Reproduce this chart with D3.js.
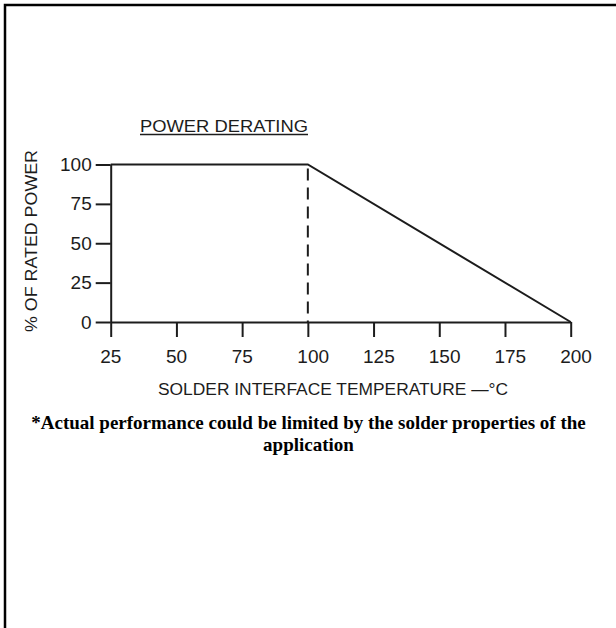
<!DOCTYPE html>
<html>
<head>
<meta charset="utf-8">
<script src="https://cdn.jsdelivr.net/npm/d3@7"></script>
<style>
    body { margin: 0; background: #fff; }
    svg { display: block; }
</style>
</head>
<body>
<div id="chart"></div>
<script>
// chart values
const tempTicks = [25, 50, 75, 100, 125, 150, 175, 200];
const powerTicks = [0, 25, 50, 75, 100];
const curveTemp = [25, 100, 200];
const curvePower = [100, 100, 0];
const kneeTemp = 100;

const chartTitle = "POWER DERATING";
const xTitle = "SOLDER INTERFACE TEMPERATURE \u2014\u00B0C";
const yTitle = "% OF RATED POWER";
const noteLines = [
    "*Actual performance could be limited by the solder properties of the",
    "application"
];

const W = 616, H = 628;
const CAD_FONT = "'Liberation Sans', Arial, sans-serif";
const INK = "#1c1c1c";

const svg = d3.select("#chart").append("svg")
    .attr("width", W)
    .attr("height", H);

// frame (runs off the right and bottom of the page)
svg.append("rect")
    .attr("x", 5).attr("y", 5)
    .attr("width", 700).attr("height", 700)
    .attr("fill", "none")
    .attr("stroke", "#000")
    .attr("stroke-width", 2.5);

const x = d3.scaleLinear().domain([25, 200]).range([110.7, 570.7]);
const y = d3.scaleLinear().domain([0, 100]).range([322, 164.5]);

// Title with underline
svg.append("text")
    .attr("x", 140)
    .attr("y", 131.5)
    .attr("textLength", 168)
    .attr("lengthAdjust", "spacingAndGlyphs")
    .style("font-family", CAD_FONT)
    .style("font-size", "17px")
    .attr("fill", INK)
    .text(chartTitle);
svg.append("line")
    .attr("x1", 140).attr("x2", 308)
    .attr("y1", 134.5).attr("y2", 134.5)
    .attr("stroke", INK)
    .attr("stroke-width", 1.3);

// Y axis
const yAxis = svg.append("g")
    .attr("transform", `translate(${x(25)},0)`)
    .call(d3.axisLeft(y).tickValues(powerTicks).tickSize(15).tickSizeOuter(0).tickPadding(4));

// X axis
const xAxis = svg.append("g")
    .attr("transform", `translate(0,${y(0)})`)
    .call(d3.axisBottom(x).tickValues(tempTicks).tickSize(15).tickSizeOuter(0).tickPadding(13));

[yAxis, xAxis].forEach(g => {
    g.select(".domain").attr("stroke", INK).attr("stroke-width", 2);
    g.selectAll(".tick line").attr("stroke", INK).attr("stroke-width", 2);
    g.selectAll(".tick text")
        .attr("fill", INK)
        .style("font-family", CAD_FONT)
        .style("font-size", "19px");
});
// x labels sit left-aligned just before each tick
xAxis.selectAll(".tick text")
    .attr("text-anchor", "start")
    .attr("x", -11);
yAxis.selectAll(".tick text").attr("x", -19);

// Axis titles
svg.append("text")
    .attr("x", 158)
    .attr("y", 395)
    .attr("textLength", 350)
    .attr("lengthAdjust", "spacingAndGlyphs")
    .style("font-family", CAD_FONT)
    .style("font-size", "16px")
    .attr("fill", INK)
    .text(xTitle);

svg.append("text")
    .attr("transform", "translate(37,241) rotate(-90)")
    .attr("text-anchor", "middle")
    .attr("textLength", 182)
    .attr("lengthAdjust", "spacingAndGlyphs")
    .style("font-family", CAD_FONT)
    .style("font-size", "16px")
    .attr("fill", INK)
    .text(yTitle);

// Derating curve
const curve = curveTemp.map((t, i) => ({ t: t, p: curvePower[i] }));
svg.append("path")
    .datum(curve)
    .attr("fill", "none")
    .attr("stroke", INK)
    .attr("stroke-width", 2)
    .attr("d", d3.line().x(d => x(d.t)).y(d => y(d.p)));

// dashed knee marker
svg.append("line")
    .attr("x1", x(kneeTemp)).attr("x2", x(kneeTemp))
    .attr("y1", y(100)).attr("y2", y(0))
    .attr("stroke", INK)
    .attr("stroke-width", 2)
    .attr("stroke-dasharray", "12,7")
    .attr("stroke-dashoffset", 15);

// Footnote
svg.append("g").selectAll("text")
    .data(noteLines)
    .join("text")
    .attr("x", 308.5)
    .attr("y", (d, i) => 429 + i * 22)
    .attr("text-anchor", "middle")
    .style("font-family", "'Liberation Serif', 'Times New Roman', serif")
    .style("font-weight", "bold")
    .style("font-size", "19px")
    .attr("fill", "#000")
    .text(d => d);
</script>
</body>
</html>
